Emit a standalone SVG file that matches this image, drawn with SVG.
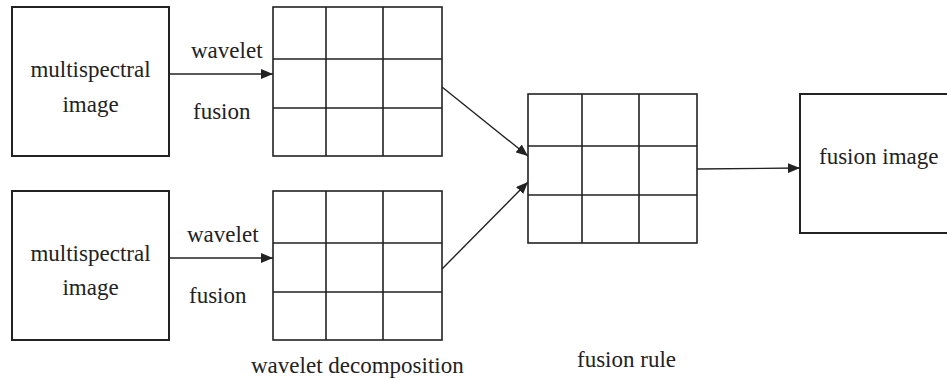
<svg xmlns="http://www.w3.org/2000/svg" width="947" height="380" viewBox="0 0 947 380">
<style>
.box{fill:#fff;stroke:#222;stroke-width:2}
.grid{fill:none;stroke:#222;stroke-width:1.6}
.con{fill:none;stroke:#222;stroke-width:1.4}
.t{font-family:'Liberation Serif','Times New Roman',Times,serif;font-size:23px;fill:#222}
</style>
<defs>
<marker id="ah" viewBox="0 0 12 10" refX="12" refY="5" markerWidth="12" markerHeight="10" markerUnits="userSpaceOnUse" orient="auto">
<path d="M0,0 L12,5 L0,10 Z" fill="#222"/>
</marker>
</defs>
<rect width="947" height="380" fill="#fff"/>
<g id="ms1">
<rect class="box" x="12" y="7" width="157" height="149"/>
<text class="t" font-family="Liberation Serif, serif" x="90.5" y="77" text-anchor="middle">multispectral</text>
<text class="t" font-family="Liberation Serif, serif" x="90.5" y="112" text-anchor="middle">image</text>
</g>
<g id="ms2">
<rect class="box" x="12" y="191" width="157" height="149"/>
<text class="t" font-family="Liberation Serif, serif" x="90.5" y="261" text-anchor="middle">multispectral</text>
<text class="t" font-family="Liberation Serif, serif" x="90.5" y="295" text-anchor="middle">image</text>
</g>
<g id="grid1">
<rect class="grid" x="273" y="7" width="169" height="149"/>
<path class="grid" d="M326,7V156M383,7V156M273,59H442M273,108H442"/>
</g>
<g id="grid2">
<rect class="grid" x="273" y="191" width="169" height="149"/>
<path class="grid" d="M326,191V340M383,191V340M273,243H442M273,292H442"/>
</g>
<g id="grid3">
<rect class="grid" x="528" y="94" width="169" height="149"/>
<path class="grid" d="M582,94V243M639,94V243M528,146H697M528,195H697"/>
</g>
<g id="out">
<rect class="box" x="800" y="94" width="160" height="139"/>
<text class="t" font-family="Liberation Serif, serif" x="819" y="164">fusion image</text>
</g>
<g id="connectors">
<line class="con" x1="169" y1="74" x2="273" y2="74" marker-end="url(#ah)"/>
<line class="con" x1="169" y1="258" x2="273" y2="258" marker-end="url(#ah)"/>
<line class="con" x1="442" y1="87" x2="528" y2="156" marker-end="url(#ah)"/>
<line class="con" x1="442" y1="269" x2="528" y2="182" marker-end="url(#ah)"/>
<line class="con" x1="697" y1="169" x2="800" y2="168" marker-end="url(#ah)"/>
</g>
<g id="labels">
<text class="t" font-family="Liberation Serif, serif" x="191" y="58">wavelet</text>
<text class="t" font-family="Liberation Serif, serif" x="193" y="119">fusion</text>
<text class="t" font-family="Liberation Serif, serif" x="187" y="242">wavelet</text>
<text class="t" font-family="Liberation Serif, serif" x="189" y="303">fusion</text>
<text class="t" font-family="Liberation Serif, serif" x="251" y="373">wavelet decomposition</text>
<text class="t" font-family="Liberation Serif, serif" x="577" y="367">fusion rule</text>
</g>
</svg>
